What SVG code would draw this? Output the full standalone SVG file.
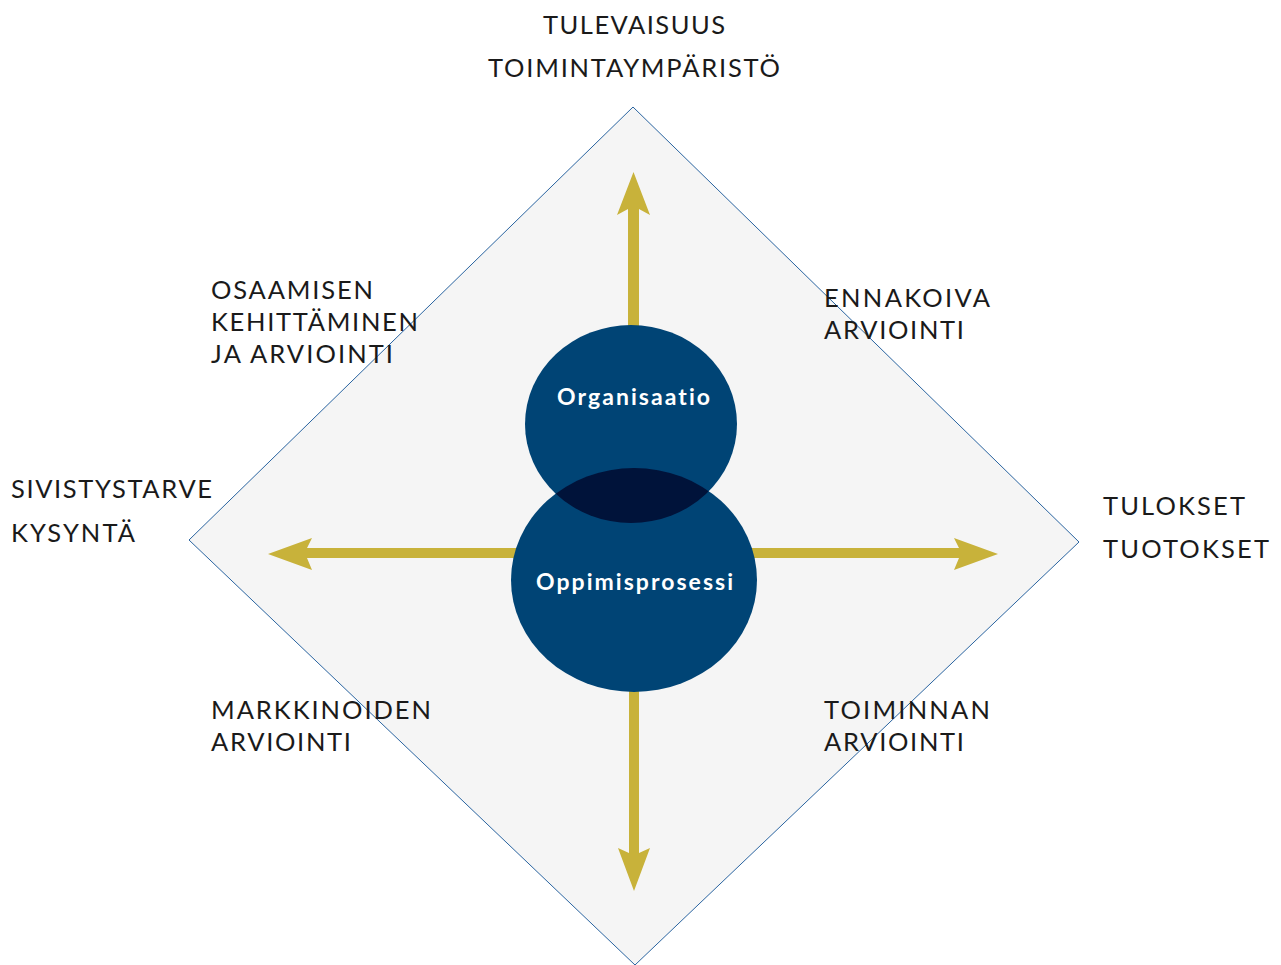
<svg xmlns="http://www.w3.org/2000/svg" width="1281" height="965" viewBox="0 0 1281 965">
<style>
.lbl{font-family:Lato,"Open Sans","Liberation Sans",sans-serif;font-size:25.5px;fill:#1a1a1a;font-variant-ligatures:none;}
.ctext{font-family:Lato,"Open Sans","Liberation Sans",sans-serif;font-size:23px;font-weight:bold;fill:#ffffff;font-variant-ligatures:none;}
.arrow{fill:#c8b23a;}
.circ{fill:#004475;}
</style>
<defs>
<clipPath id="clipTop"><ellipse cx="631" cy="424" rx="106" ry="99"/></clipPath>
</defs>
<rect width="1281" height="965" fill="#ffffff"/>
<g id="frame">
<polygon points="633,107 1079,542 635,965 189,540" fill="#f5f5f5" stroke="#2a64a0" stroke-width="1"/>
</g>
<g id="connectors">
<path class="arrow" d="M628,330 L628,209 L617,215 L633.5,172 L650,215 L639,209 L639,330 Z"/>
<path class="arrow" d="M629,688 L629,853 L618,848 L634,891 L650,848 L639,853 L639,688 Z"/>
<path class="arrow" d="M518,548 L307,548 L312,538 L268,554 L312,570 L307,558 L518,558 Z"/>
<path class="arrow" d="M750,548 L959,548 L954,538 L998,554 L954,570 L959,558 L750,558 Z"/>
</g>
<g id="organisaatio">
<ellipse class="circ" cx="631" cy="424" rx="106" ry="99"/>
</g>
<g id="oppimisprosessi">
<ellipse class="circ" cx="634" cy="580" rx="123" ry="112"/>
<ellipse cx="634" cy="580" rx="123" ry="112" fill="#00133a" clip-path="url(#clipTop)"/>
</g>
<g id="circle-labels">
<text class="ctext" x="557" y="405" textLength="153">Organisaatio</text>
<text class="ctext" x="536" y="590" textLength="197">Oppimisprosessi</text>
</g>
<g id="top-label">
<text class="lbl" x="543" y="34" textLength="182">TULEVAISUUS</text>
<text class="lbl" x="488" y="77" textLength="292">TOIMINTAYMPÄRISTÖ</text>
</g>
<g id="osaamisen">
<text class="lbl" x="211" y="299" textLength="162">OSAAMISEN</text>
<text class="lbl" x="211" y="331" textLength="207">KEHITTÄMINEN</text>
<text class="lbl" x="211" y="363" textLength="182">JA ARVIOINTI</text>
</g>
<g id="ennakoiva">
<text class="lbl" x="824" y="307" textLength="166">ENNAKOIVA</text>
<text class="lbl" x="824" y="339" textLength="140">ARVIOINTI</text>
</g>
<g id="sivistystarve">
<text class="lbl" x="11" y="498" textLength="201">SIVISTYSTARVE</text>
<text class="lbl" x="11" y="542" textLength="124">KYSYNTÄ</text>
</g>
<g id="tulokset">
<text class="lbl" x="1103" y="515" textLength="142">TULOKSET</text>
<text class="lbl" x="1103" y="558" textLength="166">TUOTOKSET</text>
</g>
<g id="markkinoiden">
<text class="lbl" x="211" y="719" textLength="220">MARKKINOIDEN</text>
<text class="lbl" x="211" y="751" textLength="140">ARVIOINTI</text>
</g>
<g id="toiminnan">
<text class="lbl" x="824" y="719" textLength="166">TOIMINNAN</text>
<text class="lbl" x="824" y="751" textLength="140">ARVIOINTI</text>
</g>
</svg>
